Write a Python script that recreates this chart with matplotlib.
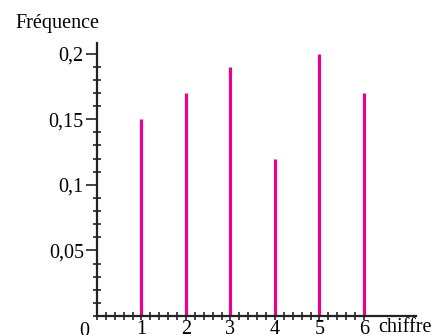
import matplotlib
matplotlib.use("Agg")
import matplotlib.pyplot as plt
from matplotlib.ticker import FixedLocator
import numpy as np

chiffres = [1, 2, 3, 4, 5, 6]
frequences = [0.15, 0.17, 0.19, 0.12, 0.20, 0.17]
y_ticks = [0.05, 0.1, 0.15, 0.2]
y_labels = ["0,05", "0,1", "0,15", "0,2"]
x_labels = ["1", "2", "3", "4", "5", "6"]

plt.rcParams["font.family"] = ["Liberation Serif", "DejaVu Serif"]
FS = 14.5

fig = plt.figure(figsize=(4.36, 3.35), dpi=100)
W, H = 436, 335
left, right = 97 / W, 416 / W
bottom, top = (H - 316) / H, (H - 43) / H
ax = fig.add_axes([left, bottom, right - left, top - bottom])

ax.vlines(chiffres, 0, frequences, colors="#EC008C", linewidth=2.3, zorder=3)

ax.set_xlim(0, 7.17)
ax.set_ylim(0, 0.208)

for side in ("top", "right"):
    ax.spines[side].set_visible(False)
for side in ("left", "bottom"):
    ax.spines[side].set_linewidth(1.6)
    ax.spines[side].set_color("#222222")
    ax.spines[side].set_zorder(4)

ax.set_xticks(chiffres)
ax.set_xticklabels(x_labels)
ax.xaxis.set_minor_locator(FixedLocator(np.round(np.arange(0, 6.01, 0.2), 2)))
ax.set_yticks(y_ticks)
ax.set_yticklabels(y_labels)
ax.yaxis.set_minor_locator(FixedLocator(np.round(np.arange(0, 0.2001, 0.01), 3)))

ax.tick_params(axis="x", which="both", direction="inout", length=6, width=1.2,
               color="#222222", labelsize=FS, pad=0)
ax.tick_params(axis="y", which="major", direction="out", length=8, width=1.2,
               color="#222222", labelsize=FS, pad=1.5)
ax.tick_params(axis="y", which="minor", direction="inout", length=6, width=1.2,
               color="#222222")

fig.text(15 / W, 1 - 28 / H, "Fréquence", fontsize=FS, va="baseline", ha="left")
fig.text(378 / W, 1 - 332 / H, "chiffre", fontsize=FS, va="baseline", ha="left")
fig.text(84 / W, 1 - 336 / H, "0", fontsize=FS, va="baseline", ha="center")

fig.savefig("out.png", dpi=100)
